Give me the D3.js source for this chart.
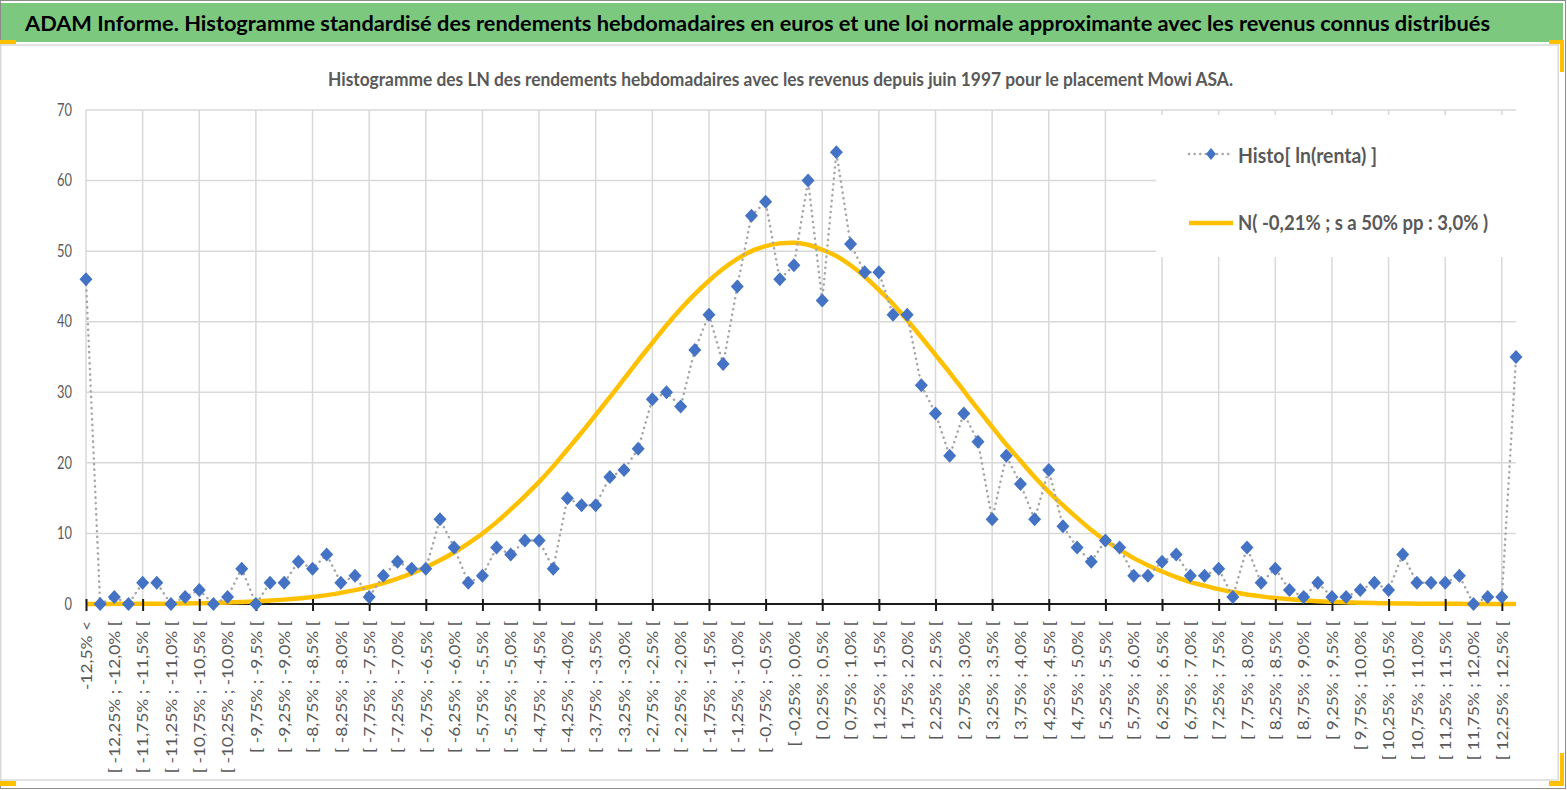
<!DOCTYPE html>
<html>
<head>
<meta charset="utf-8">
<script src="https://cdn.jsdelivr.net/npm/d3@7/dist/d3.min.js"></script>
<style>
  body { margin: 0; background: #fff; }
  svg { display: block; font-family: Lato, "Open Sans", sans-serif; }
</style>
</head>
<body>
<div id="chart"></div>
<script>
// Categories (weekly ln-return bins)
const categories = [
  "-12,5% <",
  "[ -12,5% ; -12,25% [", "[ -12,25% ; -12,0% [", "[ -12,0% ; -11,75% [", "[ -11,75% ; -11,5% [",
  "[ -11,5% ; -11,25% [", "[ -11,25% ; -11,0% [", "[ -11,0% ; -10,75% [", "[ -10,75% ; -10,5% [",
  "[ -10,5% ; -10,25% [", "[ -10,25% ; -10,0% [", "[ -10,0% ; -9,75% [", "[ -9,75% ; -9,5% [",
  "[ -9,5% ; -9,25% [", "[ -9,25% ; -9,0% [", "[ -9,0% ; -8,75% [", "[ -8,75% ; -8,5% [",
  "[ -8,5% ; -8,25% [", "[ -8,25% ; -8,0% [", "[ -8,0% ; -7,75% [", "[ -7,75% ; -7,5% [",
  "[ -7,5% ; -7,25% [", "[ -7,25% ; -7,0% [", "[ -7,0% ; -6,75% [", "[ -6,75% ; -6,5% [",
  "[ -6,5% ; -6,25% [", "[ -6,25% ; -6,0% [", "[ -6,0% ; -5,75% [", "[ -5,75% ; -5,5% [",
  "[ -5,5% ; -5,25% [", "[ -5,25% ; -5,0% [", "[ -5,0% ; -4,75% [", "[ -4,75% ; -4,5% [",
  "[ -4,5% ; -4,25% [", "[ -4,25% ; -4,0% [", "[ -4,0% ; -3,75% [", "[ -3,75% ; -3,5% [",
  "[ -3,5% ; -3,25% [", "[ -3,25% ; -3,0% [", "[ -3,0% ; -2,75% [", "[ -2,75% ; -2,5% [",
  "[ -2,5% ; -2,25% [", "[ -2,25% ; -2,0% [", "[ -2,0% ; -1,75% [", "[ -1,75% ; -1,5% [",
  "[ -1,5% ; -1,25% [", "[ -1,25% ; -1,0% [", "[ -1,0% ; -0,75% [", "[ -0,75% ; -0,5% [",
  "[ -0,5% ; -0,25% [", "[ -0,25% ; 0,0% [", "[ 0,0% ; 0,25% [", "[ 0,25% ; 0,5% [",
  "[ 0,5% ; 0,75% [", "[ 0,75% ; 1,0% [", "[ 1,0% ; 1,25% [", "[ 1,25% ; 1,5% [",
  "[ 1,5% ; 1,75% [", "[ 1,75% ; 2,0% [", "[ 2,0% ; 2,25% [", "[ 2,25% ; 2,5% [",
  "[ 2,5% ; 2,75% [", "[ 2,75% ; 3,0% [", "[ 3,0% ; 3,25% [", "[ 3,25% ; 3,5% [",
  "[ 3,5% ; 3,75% [", "[ 3,75% ; 4,0% [", "[ 4,0% ; 4,25% [", "[ 4,25% ; 4,5% [",
  "[ 4,5% ; 4,75% [", "[ 4,75% ; 5,0% [", "[ 5,0% ; 5,25% [", "[ 5,25% ; 5,5% [",
  "[ 5,5% ; 5,75% [", "[ 5,75% ; 6,0% [", "[ 6,0% ; 6,25% [", "[ 6,25% ; 6,5% [",
  "[ 6,5% ; 6,75% [", "[ 6,75% ; 7,0% [", "[ 7,0% ; 7,25% [", "[ 7,25% ; 7,5% [",
  "[ 7,5% ; 7,75% [", "[ 7,75% ; 8,0% [", "[ 8,0% ; 8,25% [", "[ 8,25% ; 8,5% [",
  "[ 8,5% ; 8,75% [", "[ 8,75% ; 9,0% [", "[ 9,0% ; 9,25% [", "[ 9,25% ; 9,5% [",
  "[ 9,5% ; 9,75% [", "[ 9,75% ; 10,0% [", "[ 10,0% ; 10,25% [", "[ 10,25% ; 10,5% [",
  "[ 10,5% ; 10,75% [", "[ 10,75% ; 11,0% [", "[ 11,0% ; 11,25% [", "[ 11,25% ; 11,5% [",
  "[ 11,5% ; 11,75% [", "[ 11,75% ; 12,0% [", "[ 12,0% ; 12,25% [", "[ 12,25% ; 12,5% [",
  "12,5% <="
];

// Histogram counts per bin
const histoValues = [
  46, 0, 1, 0, 3, 3, 0, 1, 2, 0,
  1, 5, 0, 3, 3, 6, 5, 7, 3, 4,
  1, 4, 6, 5, 5, 12, 8, 3, 4, 8,
  7, 9, 9, 5, 15, 14, 14, 18, 19, 22,
  29, 30, 28, 36, 41, 34, 45, 55, 57, 46,
  48, 60, 43, 64, 51, 47, 47, 41, 41, 31,
  27, 21, 27, 23, 12, 21, 17, 12, 19, 11,
  8, 6, 9, 8, 4, 4, 6, 7, 4, 4,
  5, 1, 8, 3, 5, 2, 1, 3, 1, 1,
  2, 3, 2, 7, 3, 3, 3, 4, 0, 1,
  1, 35
];

// Approximating normal curve
const normalValues = [
  0, 0.01, 0.02, 0.02, 0.03, 0.04, 0.05, 0.07, 0.1, 0.15,
  0.22, 0.29, 0.37, 0.48, 0.62, 0.79, 1.0, 1.26, 1.58, 1.96,
  2.41, 2.96, 3.6, 4.34, 5.2, 6.2, 7.3, 8.6, 10.0, 11.6,
  13.4, 15.3, 17.3, 19.5, 21.9, 24.3, 26.8, 29.3, 31.9, 34.5,
  37.0, 39.5, 41.8, 43.9, 45.8, 47.5, 48.9, 50.0, 50.7, 51.1,
  51.2, 50.9, 50.2, 49.3, 48.0, 46.4, 44.5, 42.5, 40.2, 37.8,
  35.3, 32.8, 30.2, 27.6, 25.1, 22.6, 20.3, 18.0, 15.9, 14.0,
  12.2, 10.5, 9.0, 7.7, 6.5, 5.5, 4.6, 3.8, 3.1, 2.6,
  2.1, 1.69, 1.35, 1.08, 0.85, 0.67, 0.52, 0.4, 0.31, 0.24,
  0.18, 0.13, 0.1, 0.07, 0.05, 0.04, 0.03, 0.02, 0.01, 0.01,
  0.01, 0
];

const yTicks = [0, 10, 20, 30, 40, 50, 60, 70];
const seriesNames = ["Histo[ ln(renta) ]", "N( -0,21% ; s a 50% pp : 3,0% )"];
const titleText = "ADAM Informe. Histogramme standardisé des rendements hebdomadaires en euros et une loi normale approximante avec les revenus connus distribués";
const subtitleText = "Histogramme des LN des rendements hebdomadaires avec les revenus depuis juin 1997 pour le placement Mowi ASA.";

const W = 1567, H = 790;
const plot = { left: 86, right: 1516, top: 110, bottom: 604 };
const grey = "#595959";

const svg = d3.select("#chart").append("svg")
  .attr("width", W)
  .attr("height", H);

// squeeze text horizontally by factor k
function squeeze(sel, k) {
  sel.each(function () {
    const len = this.getComputedTextLength();
    this.setAttribute("textLength", len * k);
    this.setAttribute("lengthAdjust", "spacingAndGlyphs");
  });
}

// frame, banner and chart area
svg.append("rect").attr("x", 0.5).attr("y", 0.5).attr("width", W - 2).attr("height", H - 2)
  .attr("fill", "#fff").attr("stroke", "#8c8c8c");
svg.append("rect").attr("x", 1).attr("y", 3).attr("width", 1562).attr("height", 39)
  .attr("fill", "#7dc87f");
svg.append("rect").attr("x", 0.75).attr("y", 45).attr("width", 1557.5).attr("height", 735)
  .attr("fill", "#fff").attr("stroke", "#d9d9d9").attr("stroke-width", 1.5);

// selection corner marks
const marks = [[0, 40, 16, 4], [1549, 40, 15, 4], [1560, 40, 4, 32], [1549, 781, 15, 5], [1560, 753, 4, 33], [0, 781, 16, 5]];
svg.selectAll(".mark").data(marks).enter().append("rect")
  .attr("x", d => d[0]).attr("y", d => d[1]).attr("width", d => d[2]).attr("height", d => d[3])
  .attr("fill", "#ffc000");

svg.append("text")
  .attr("x", 25).attr("y", 31)
  .attr("font-size", 21).attr("font-weight", "bold").attr("fill", "#000")
  .attr("textLength", 1465).attr("lengthAdjust", "spacingAndGlyphs")
  .text(titleText);

svg.append("text")
  .attr("x", 328).attr("y", 86)
  .attr("font-size", 19).attr("font-weight", "bold").attr("fill", grey)
  .attr("textLength", 905).attr("lengthAdjust", "spacingAndGlyphs")
  .text(subtitleText);

// scales
const x = d3.scalePoint().domain(categories).range([plot.left, plot.right]);
const y = d3.scaleLinear().domain([0, 70]).range([plot.bottom, plot.top]);

const tickCats = categories.filter((c, i) => i % 4 === 0);
const labelCats = categories.filter((c, i) => i % 2 === 0);

// gridlines
const g = svg.append("g");
g.selectAll(".hgrid").data(yTicks).enter().append("line")
  .attr("x1", plot.left).attr("x2", plot.right)
  .attr("y1", d => y(d)).attr("y2", d => y(d))
  .attr("stroke", "#d9d9d9").attr("stroke-width", 1.5);
g.selectAll(".vgrid").data(tickCats).enter().append("line")
  .attr("x1", d => x(d)).attr("x2", d => x(d))
  .attr("y1", plot.top).attr("y2", plot.bottom)
  .attr("stroke", "#d9d9d9").attr("stroke-width", 1.5);

// y axis labels
const yAxis = svg.append("g")
  .attr("transform", `translate(${plot.left},0)`)
  .call(d3.axisLeft(y).tickValues(yTicks).tickSize(0).tickPadding(14))
  .attr("font-family", null).attr("font-size", null);
yAxis.select(".domain").remove();
yAxis.selectAll("text").attr("font-size", 16.5).attr("fill", grey);
squeeze(yAxis.selectAll("text"), 0.78);

// x axis line
svg.append("line")
  .attr("x1", plot.left).attr("x2", plot.right)
  .attr("y1", plot.bottom).attr("y2", plot.bottom)
  .attr("stroke", "#1a1a1a").attr("stroke-width", 2);

// x labels (every second bin)
const xLabels = svg.append("g")
  .attr("transform", `translate(0,${plot.bottom})`)
  .call(d3.axisBottom(x).tickValues(labelCats).tickSize(0))
  .attr("font-family", null).attr("font-size", null);
xLabels.select(".domain").remove();
xLabels.selectAll("text")
  .attr("font-size", 14.5)
  .attr("fill", grey)
  .attr("transform", "rotate(-90)")
  .attr("text-anchor", "end")
  .attr("x", -17).attr("y", 0).attr("dy", "0.36em");
xLabels.selectAll("text").each(function () {
  const len = this.getComputedTextLength();
  this.setAttribute("textLength", 151 * len / 126);
  this.setAttribute("lengthAdjust", "spacingAndGlyphs");
});

// normal curve
const lineN = d3.line()
  .x((d, i) => x(categories[i]))
  .y(d => y(d))
  .curve(d3.curveMonotoneX);
svg.append("path")
  .datum(normalValues)
  .attr("d", lineN)
  .attr("fill", "none")
  .attr("stroke", "#ffc000")
  .attr("stroke-width", 4.5)
  .attr("stroke-linejoin", "round");

// x tick marks (every fourth bin)
const xTicks = svg.append("g")
  .attr("transform", `translate(0,${plot.bottom})`)
  .call(d3.axisBottom(x).tickValues(tickCats).tickSize(7).tickFormat(""));
xTicks.select(".domain").remove();
xTicks.selectAll("line").attr("y1", -5).attr("stroke", "#1a1a1a").attr("stroke-width", 2);

// histogram series: dotted line + diamonds
const lineH = d3.line()
  .x((d, i) => x(categories[i]))
  .y(d => y(d));
svg.append("path")
  .datum(histoValues)
  .attr("d", lineH)
  .attr("fill", "none")
  .attr("stroke", "#a6a6a6")
  .attr("stroke-width", 2.5)
  .attr("stroke-linecap", "round")
  .attr("stroke-dasharray", "0.1 5.5");

const diamond = "M0,-7L6.5,0L0,7L-6.5,0Z";
svg.selectAll(".pt").data(histoValues).enter().append("path")
  .attr("d", diamond)
  .attr("transform", (d, i) => `translate(${x(categories[i])},${y(d)})`)
  .attr("fill", "#4472c4");

// legend
const leg = svg.append("g");
leg.append("rect").attr("x", 1156).attr("y", 115).attr("width", 362).attr("height", 142).attr("fill", "#fff");
leg.append("line").attr("x1", 1189).attr("x2", 1233).attr("y1", 154).attr("y2", 154)
  .attr("stroke", "#a6a6a6").attr("stroke-width", 2.5).attr("stroke-linecap", "round")
  .attr("stroke-dasharray", "0.1 5.5");
leg.append("path").attr("d", "M0,-6L5,0L0,6L-5,0Z").attr("transform", "translate(1211,154)").attr("fill", "#4472c4");
leg.append("line").attr("x1", 1189).attr("x2", 1233).attr("y1", 223).attr("y2", 223)
  .attr("stroke", "#ffc000").attr("stroke-width", 4.5);
leg.selectAll(".lt").data(seriesNames).enter().append("text")
  .attr("x", 1238).attr("y", (d, i) => i === 0 ? 163 : 230)
  .attr("font-size", 21).attr("font-weight", "bold").attr("fill", grey)
  .attr("textLength", (d, i) => i === 0 ? 139 : 250).attr("lengthAdjust", "spacingAndGlyphs")
  .text(d => d);
</script>
</body>
</html>
